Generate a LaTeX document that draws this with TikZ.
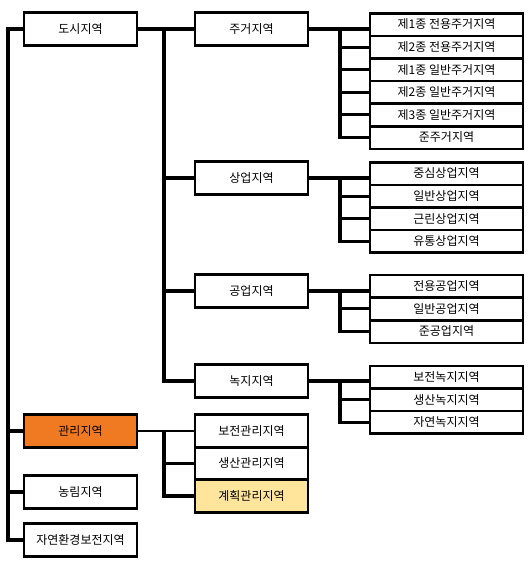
\documentclass[tikz,border=0pt]{standalone}
\usepackage{fontspec}
\setmainfont{Noto Sans CJK KR}
\usepackage{xcolor}
\usepackage{tikz}
\usetikzlibrary{positioning}

\definecolor{zoneorange}{HTML}{F07A22}
\definecolor{zoneyellow}{HTML}{FFE59C}

\begin{document}
\begin{tikzpicture}[
  x=1pt, y=-1pt,
  every node/.style={font=\fontsize{12}{14}\selectfont},
  zone/.style={draw, line width=2.6pt, fill=white, minimum width=113pt,
    minimum height=32.5pt, inner sep=0pt, outer sep=0pt},
  leaf/.style={draw, line width=2.6pt, fill=white, minimum width=153pt,
    minimum height=22.6pt, inner sep=0pt, outer sep=0pt},
  link/.style={line width=3.1pt}
]
\useasboundingbox (0,0) rectangle (532,562);

% trunk positions
\coordinate (tA) at (8,0);
\coordinate (tB) at (164,0);
\coordinate (tC) at (340,0);

% first level
\node[zone] (dosi) at (80.5,29) {도시지역};
\node[zone, fill=zoneorange] (gwanri) at (80.5,431) {관리지역};
\node[zone] (nongrim) at (80.5,492) {농림지역};
\node[zone] (jayeon) at (80.5,540) {자연환경보전지역};

% second level
\node[zone] (jugeo) at (251.5,29) {주거지역};
\node[zone] (sangeop) at (251.5,178) {상업지역};
\node[zone] (gongeop) at (251.5,291) {공업지역};
\node[zone] (noksi) at (251.5,381) {녹지지역};

\node[zone] (gbojeon) at (251.5,431) {보전관리지역};
\node[zone, below=0pt of gbojeon] (gsaengsan) {생산관리지역};
\node[zone, fill=zoneyellow, below=0pt of gsaengsan] (ggyehoek) {계획관리지역};

% third level
\node[leaf] (r1) at (446.5,24.5) {제1종 전용주거지역};
\node[leaf, below=0pt of r1] (r2) {제2종 전용주거지역};
\node[leaf, below=0pt of r2] (r3) {제1종 일반주거지역};
\node[leaf, below=0pt of r3] (r4) {제2종 일반주거지역};
\node[leaf, below=0pt of r4] (r5) {제3종 일반주거지역};
\node[leaf, below=0pt of r5] (r6) {준주거지역};

\node[leaf] (c1) at (446.5,173.5) {중심상업지역};
\node[leaf, below=0pt of c1] (c2) {일반상업지역};
\node[leaf, below=0pt of c2] (c3) {근린상업지역};
\node[leaf, below=0pt of c3] (c4) {유통상업지역};

\node[leaf] (i1) at (446.5,286.3) {전용공업지역};
\node[leaf, below=0pt of i1] (i2) {일반공업지역};
\node[leaf, below=0pt of i2] (i3) {준공업지역};

\node[leaf] (g1) at (446.5,377.2) {보전녹지지역};
\node[leaf, below=0pt of g1] (g2) {생산녹지지역};
\node[leaf, below=0pt of g2] (g3) {자연녹지지역};

% main trunk
\draw[link] (dosi.west) -| (tA |- jayeon) -- (jayeon.west);
\draw[link] (tA |- gwanri) -- (gwanri.west);
\draw[link] (tA |- nongrim) -- (nongrim.west);

% urban branches
\draw[link] (dosi.east) -- (jugeo.west);
\draw[link] (tB |- dosi.east) |- (noksi.west);
\draw[link] (tB |- sangeop) -- (sangeop.west);
\draw[link] (tB |- gongeop) -- (gongeop.west);

% management branches
\draw[line width=1.6pt] (gwanri.east) -- (gbojeon.west);
\draw[link] (tB |- gwanri) |- (ggyehoek.west);
\draw[link] (tB |- gsaengsan) -- (gsaengsan.west);

% residential
\draw[link] (jugeo.east) -- (r1.west |- jugeo.east);
\draw[link] (tC |- jugeo.east) |- (r6.west);
\draw[link] (tC |- r2) -- (r2.west);
\draw[link] (tC |- r3) -- (r3.west);
\draw[link] (tC |- r4) -- (r4.west);
\draw[link] (tC |- r5) -- (r5.west);

% commercial
\draw[link] (sangeop.east) -- (c1.west |- sangeop.east);
\draw[link] (tC |- sangeop.east) |- (c4.west);
\draw[link] (tC |- c2) -- (c2.west);
\draw[link] (tC |- c3) -- (c3.west);

% industrial
\draw[link] (gongeop.east) -- (i1.west |- gongeop.east);
\draw[link] (tC |- gongeop.east) |- (i3.west);
\draw[link] (tC |- i2) -- (i2.west);

% green
\draw[link] (noksi.east) -- (g1.west |- noksi.east);
\draw[link] (tC |- noksi.east) |- (g3.west);
\draw[link] (tC |- g2) -- (g2.west);
\end{tikzpicture}
\end{document}
